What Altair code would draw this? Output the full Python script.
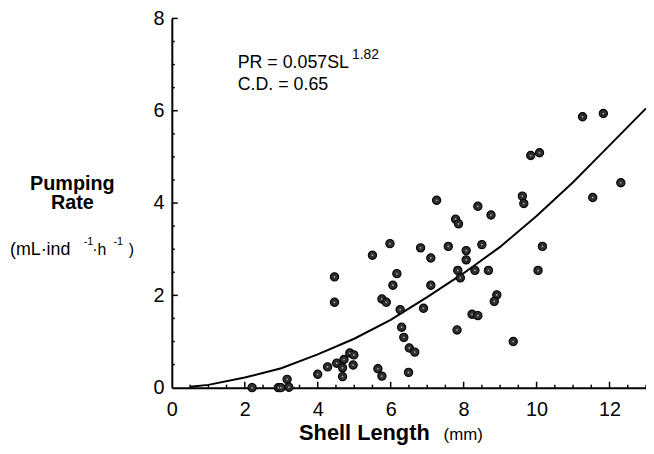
import altair as alt
import pandas as pd

# scatter data (Shell Length mm, Pumping Rate mL/ind/h)
shell_length = [4.46, 4.46, 5.50, 5.98, 6.17, 6.06, 5.76, 5.88, 6.26, 6.30,
                6.36, 6.51, 6.66, 6.49, 5.65, 5.76, 4.00, 4.27, 4.52, 4.72,
                4.88, 4.99, 4.68, 4.97, 4.68, 3.16, 3.21, 2.92, 2.99, 2.20,
                6.82, 7.10, 7.10, 6.90, 7.26, 7.58, 7.78, 7.86, 7.84, 7.91,
                8.07, 8.07, 8.31, 8.39, 8.50, 8.68, 8.75, 7.82, 8.23, 8.39,
                8.91, 8.84, 9.36, 9.61, 9.65, 9.84, 10.08, 10.04, 10.16, 11.26,
                11.83, 11.54, 12.31]
pumping_rate = [2.40, 1.85, 2.87, 3.12, 2.47, 2.22, 1.92, 1.85, 1.69, 1.31,
                1.09, 0.86, 0.77, 0.33, 0.41, 0.25, 0.29, 0.45, 0.53, 0.61,
                0.75, 0.71, 0.43, 0.49, 0.24, 0.18, 0.01, 0.0, 0.0, 0.0,
                3.03, 2.81, 2.22, 1.72, 4.06, 3.06, 3.65, 3.55, 2.54, 2.38,
                2.97, 2.77, 2.54, 3.93, 3.10, 2.54, 3.74, 1.25, 1.59, 1.56,
                2.01, 1.87, 1.00, 4.15, 3.99, 5.03, 5.09, 2.54, 3.06, 5.87,
                5.94, 4.12, 4.44]

# fitted curve
fit_length = [0.5, 1, 2, 3, 4, 5, 6, 7, 8, 9, 10, 11, 12, 13]
fit_rate = [0.02, 0.06, 0.22, 0.42, 0.72, 1.06, 1.47, 1.96, 2.48, 3.05, 3.72, 4.45, 5.25, 6.05]

# axis labels and tick positions
x_labels = [0, 2, 4, 6, 8, 10, 12]
y_labels = [0, 2, 4, 6, 8]
x_major_ticks = [2, 4, 6, 8, 10, 12]
x_minor_ticks = [0.5, 1, 1.5, 2.5, 3, 3.5, 4.5, 5, 5.5, 6.5, 7, 7.5, 8.5, 9, 9.5,
                 10.5, 11, 11.5, 12.5, 13]
y_major_ticks = [2, 4, 6, 8]
y_minor_ticks = [0.5, 1, 1.5, 2.5, 3, 3.5, 4.5, 5, 5.5, 6.5, 7, 7.5]

W, H = 479, 373
FONT = "Liberation Sans"

xs = alt.Scale(domain=[0, 13], nice=False, zero=False)
ys = alt.Scale(domain=[0, 8], nice=False)

xaxis = alt.Axis(values=x_labels, title="", ticks=False, tickSize=0, grid=False,
                 domainColor="black", domainWidth=2, labelFont=FONT,
                 labelFontSize=20, labelColor="black", labelPadding=12,
                 labelFlush=False)
yaxis = alt.Axis(values=y_labels, title="", ticks=False, tickSize=0, grid=False,
                 domainColor="black", domainWidth=2, labelFont=FONT,
                 labelFontSize=20, labelColor="black", labelPadding=8,
                 labelFlush=False)

pts_df = pd.DataFrame({"SL": shell_length, "PR": pumping_rate})
fit_df = pd.DataFrame({"SL": fit_length, "PR": fit_rate})

points = alt.Chart(pts_df).mark_circle(
    size=70, color="#2e2e2e", stroke="black", strokeWidth=1.1, opacity=1
).encode(
    x=alt.X("SL:Q", scale=xs, axis=xaxis),
    y=alt.Y("PR:Q", scale=ys, axis=yaxis),
)
specks = alt.Chart(pts_df).mark_circle(size=3, color="#b0b0b0", opacity=1).encode(
    x=alt.X("SL:Q", scale=xs, axis=xaxis),
    y=alt.Y("PR:Q", scale=ys, axis=yaxis),
)
curve = alt.Chart(fit_df).mark_line(color="black", strokeWidth=2).encode(
    x=alt.X("SL:Q", scale=xs, axis=xaxis),
    y=alt.Y("PR:Q", scale=ys, axis=yaxis),
)


def xticks(vals, length):
    return alt.Chart(pd.DataFrame({"v": vals})).mark_rule(
        color="black", strokeWidth=1.5
    ).encode(
        x=alt.X("v:Q", scale=xs, axis=xaxis),
        y=alt.value(H), y2=alt.value(H - length),
    )


def yticks(vals, length):
    return alt.Chart(pd.DataFrame({"v": vals})).mark_rule(
        color="black", strokeWidth=1.5
    ).encode(
        y=alt.Y("v:Q", scale=ys, axis=yaxis),
        x=alt.value(0), x2=alt.value(length),
    )


def label(text, x, y, size, weight="normal", align="left", baseline="middle"):
    return alt.Chart(pd.DataFrame({"t": [text]})).mark_text(
        font=FONT, fontSize=size, fontWeight=weight, align=align,
        baseline=baseline, color="black"
    ).encode(text="t:N", x=alt.value(x), y=alt.value(y))


texts = [
    label("PR = 0.057SL", 66.5, 45, 18),
    label("1.82", 182, 37, 14),
    label("C.D. = 0.65", 66.5, 67, 18),
    label("Pumping", -100.5, 167, 20, "bold", "center"),
    label("Rate", -100.5, 187, 20, "bold", "center"),
    label("(mL·ind", -163.5, 233.5, 18),
    label("-1", -89, 226, 11),
    label("·h", -80.5, 233.5, 16),
    label("-1", -59, 226, 11),
    label(")", -43.5, 233.5, 16),
    label("Shell Length", 260.5, 425.7, 22, "bold", "right", "alphabetic"),
    label("(mm)", 274.5, 425.7, 17, "normal", "left", "alphabetic"),
]

chart = alt.layer(
    xticks(x_minor_ticks, 3), xticks(x_major_ticks, 6),
    yticks(y_minor_ticks, 3), yticks(y_major_ticks, 6),
    curve, points, specks, *texts
).properties(
    width=W, height=H,
    autosize=alt.AutoSizeParams(type="none"),
    padding={"left": 165.5, "top": 8.3, "right": 0, "bottom": 56.7},
    background="white",
).configure_view(stroke=None)

chart.save("out.html", embed_options={"renderer": "svg", "actions": False})
